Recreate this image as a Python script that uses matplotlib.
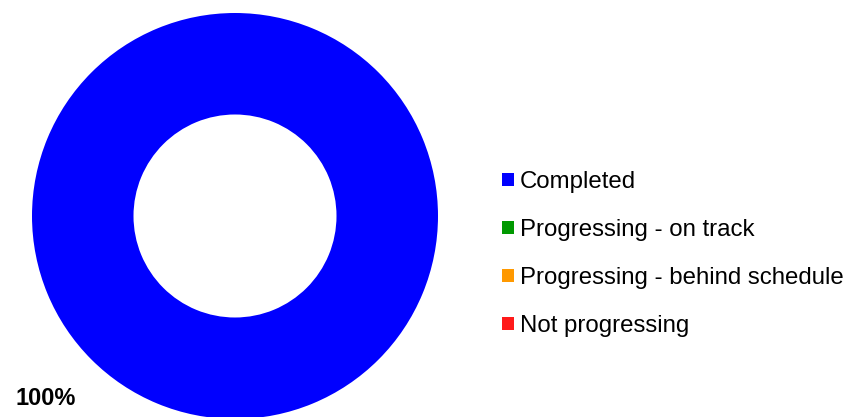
import matplotlib
matplotlib.use("Agg")
import matplotlib.pyplot as plt
from matplotlib.patches import Patch

categories = ["Completed", "Progressing - on track",
              "Progressing - behind schedule", "Not progressing"]
values = [100, 0, 0, 0]
colors = ["#0000FF", "#009900", "#FF9900", "#FF1A1A"]

plt.rcParams['font.family'] = ['Liberation Sans', 'DejaVu Sans']

W, H = 846, 417
R = 203.0  # pixel radius of the donut
cx, cy = 235.0, H - 216.0
lim = 1.3

fig = plt.figure(figsize=(W / 100, H / 100), dpi=100)
ax = fig.add_axes([(cx - lim * R) / W, (cy - lim * R) / H,
                   2 * lim * R / W, 2 * lim * R / H])

shown = [(v, c) for v, c in zip(values, colors) if v > 0]
wedges, texts, autotexts = ax.pie(
    [v for v, _ in shown], colors=[c for _, c in shown],
    startangle=44, radius=1.0,
    wedgeprops=dict(width=0.5, linewidth=0),
    autopct='%1.0f%%', pctdistance=1.295,
    textprops=dict(fontsize=17, fontweight='bold', color='black'))
for t in autotexts:
    t.set_clip_on(False)
ax.set_xlim(-lim, lim)
ax.set_ylim(-lim, lim)
ax.set_aspect('equal')
ax.axis('off')

handles = [Patch(facecolor=c, edgecolor='none') for c in colors]
fig.legend(handles, categories, loc='center left',
           bbox_to_anchor=(502 / W, (H - 254) / H),
           frameon=False, fontsize=17.3, borderpad=0, borderaxespad=0,
           handlelength=0.5, handleheight=0.5, handletextpad=0.25,
           labelspacing=1.08)

fig.savefig("out.png", dpi=100)
